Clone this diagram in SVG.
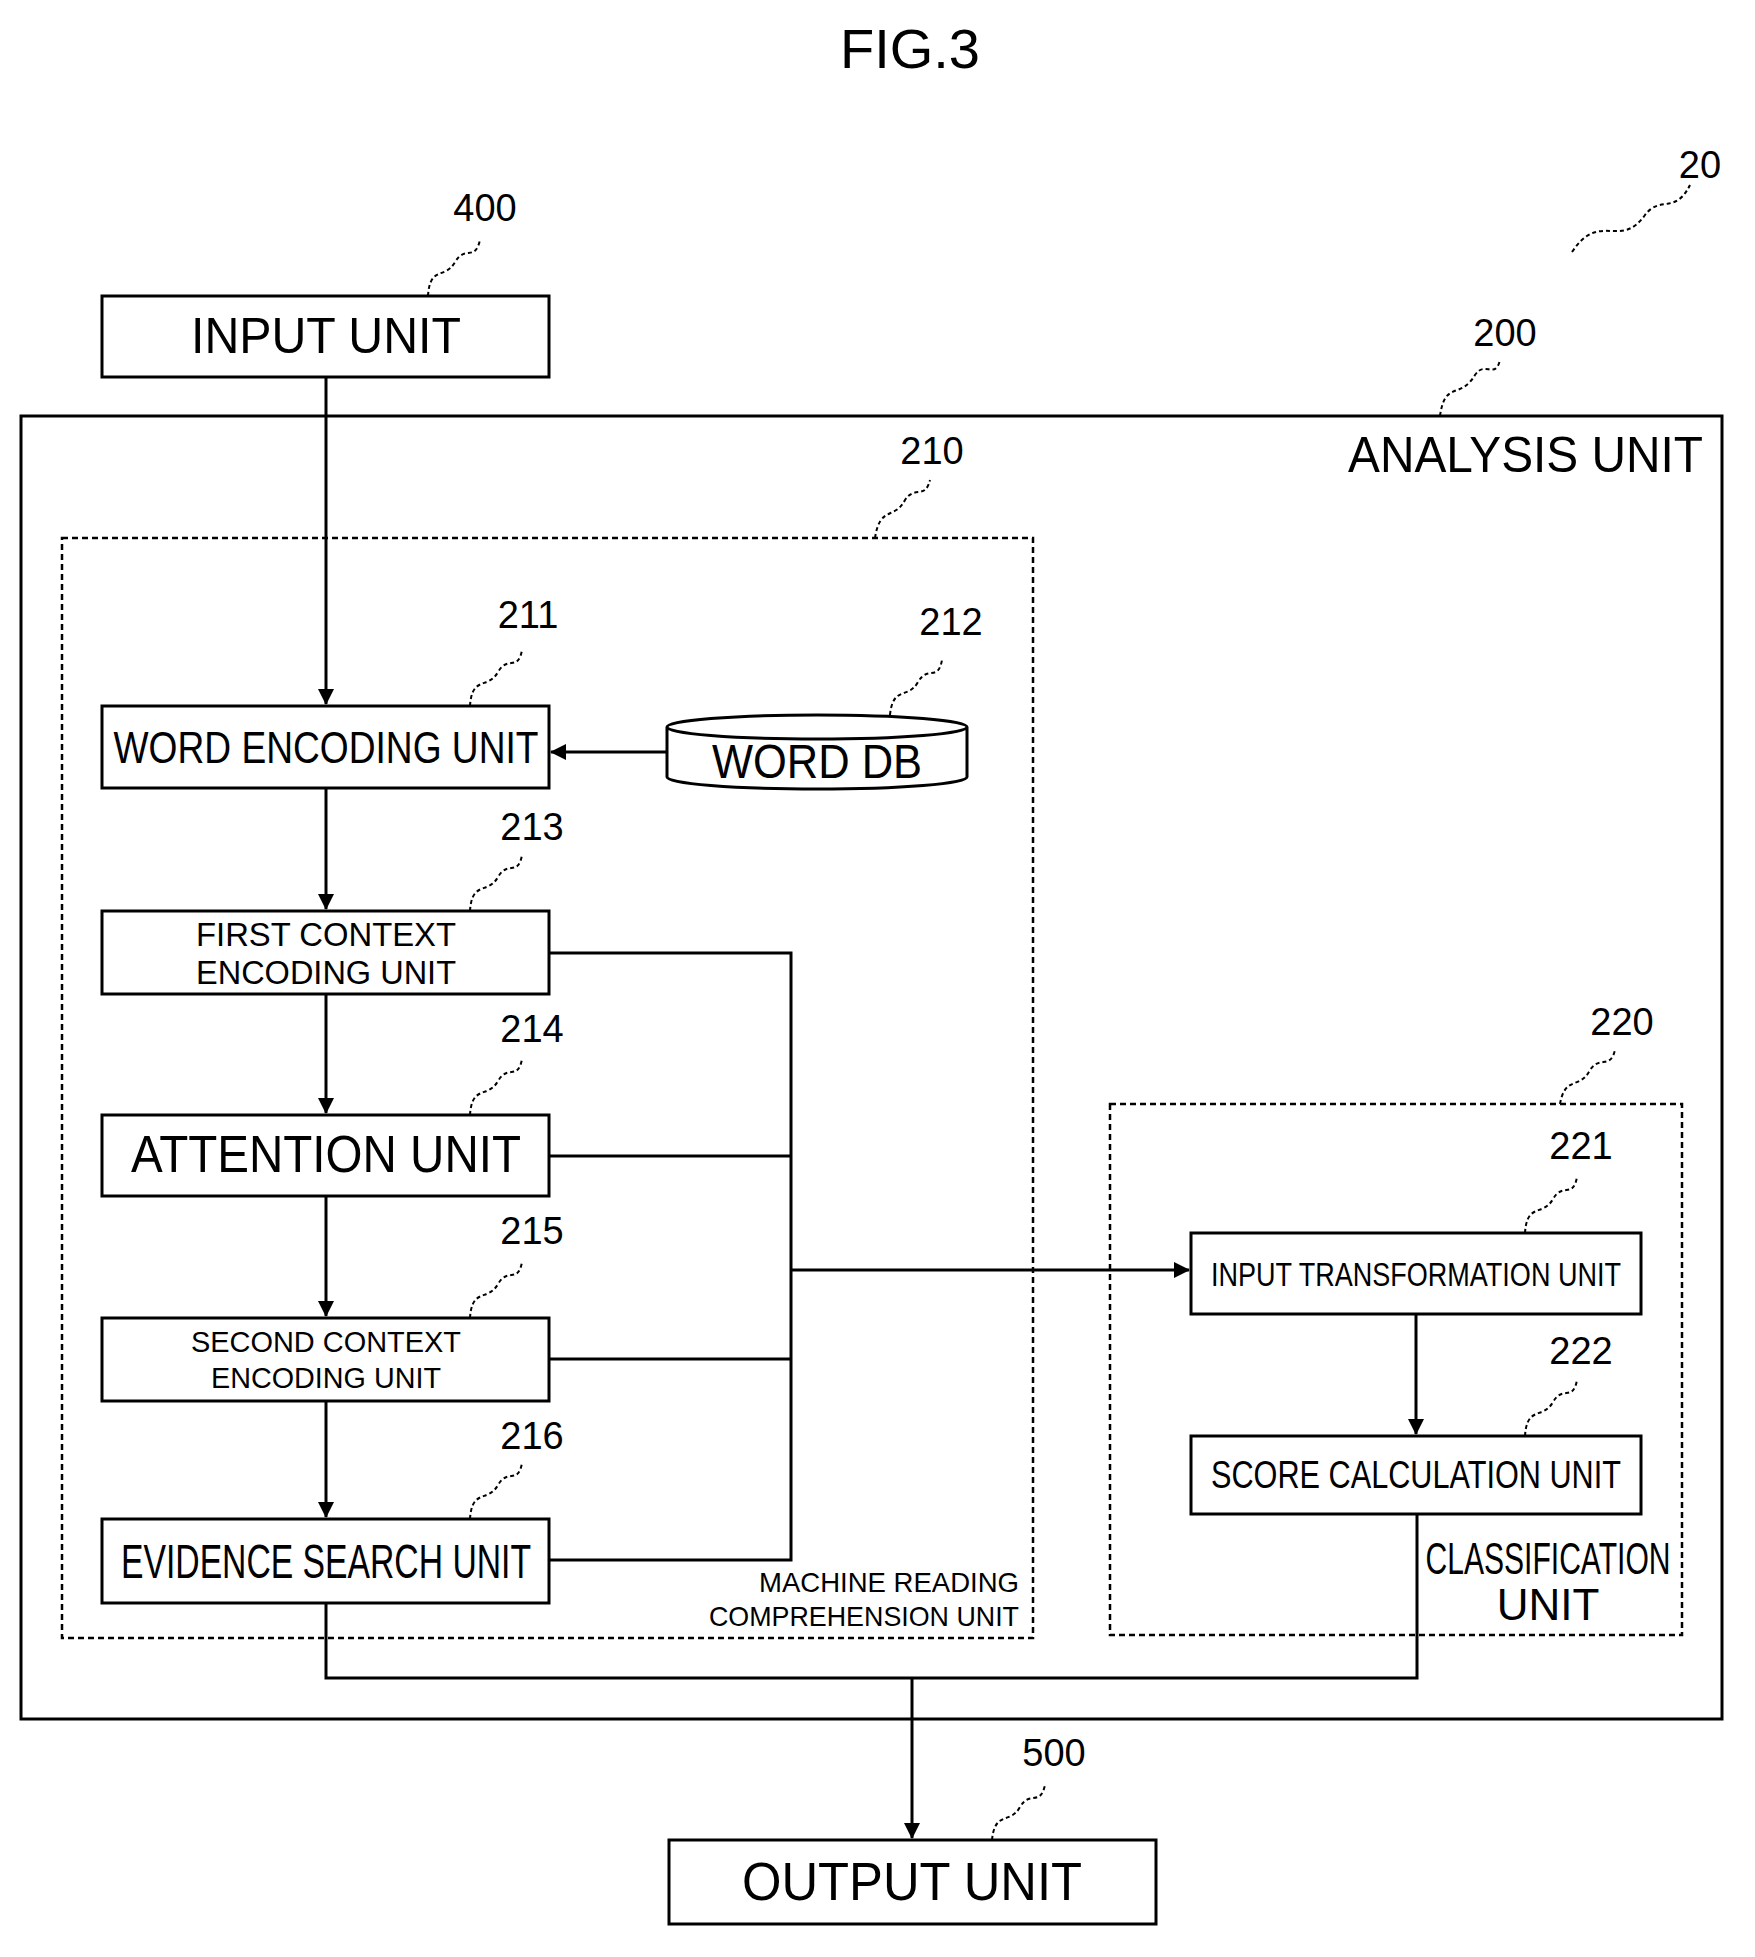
<svg xmlns="http://www.w3.org/2000/svg" width="1755" height="1957" viewBox="0 0 1755 1957">
<style>
.b{fill:#fff;stroke:#000;stroke-width:3}
.d{fill:none;stroke:#000;stroke-width:2.5;stroke-dasharray:6 4}
.c{fill:none;stroke:#000;stroke-width:3}
.s{fill:none;stroke:#000;stroke-width:2;stroke-dasharray:4 3}
text{font-family:"Liberation Sans",Arial,sans-serif;fill:#000}
.t{text-anchor:middle}
.n{font-size:38px}
</style>
<defs><marker id="a" markerWidth="16" markerHeight="16" refX="15" refY="8" orient="auto" markerUnits="userSpaceOnUse"><path d="M0,0L16,8L0,16Z" fill="#000"/></marker></defs>
<rect width="1755" height="1957" fill="#fff"/>
<text x="910" y="68" class="t" font-size="56">FIG.3</text>
<g id="ref20"><text x="1700" y="178" class="t n">20</text><path class="s" d="M1572,252 C1600,210 1620,250 1645,215 C1660,195 1675,215 1690,185"/></g>
<g id="analysis"><rect class="b" x="21" y="416" width="1701" height="1303"/><text x="1703" y="472" text-anchor="end" font-size="50" textLength="355" lengthAdjust="spacingAndGlyphs">ANALYSIS UNIT</text><text x="1505" y="346" class="t n">200</text><path class="s" d="M1440,416 C1445,380 1460,400 1475,375 C1485,360 1495,380 1500,360"/></g>
<g id="mrc"><rect class="d" x="62" y="538" width="971" height="1100"/><text x="1019" y="1592" text-anchor="end" font-size="28" textLength="260" lengthAdjust="spacingAndGlyphs">MACHINE READING</text><text x="1019" y="1626" text-anchor="end" font-size="28" textLength="310" lengthAdjust="spacingAndGlyphs">COMPREHENSION UNIT</text><text x="932" y="464" class="t n">210</text><path class="s" d="M875,538 C880,505 895,520 905,500 C915,485 925,500 930,480"/></g>
<g id="classification"><rect class="d" x="1110" y="1104" width="572" height="531"/><text x="1548" y="1574" class="t" font-size="44" textLength="245" lengthAdjust="spacingAndGlyphs">CLASSIFICATION</text><text x="1548" y="1620" class="t" font-size="44">UNIT</text><text x="1622" y="1035" class="t n">220</text><path class="s" d="M1560,1104 C1565,1075 1580,1090 1590,1070 C1600,1055 1610,1070 1615,1050"/></g>
<g id="input"><rect class="b" x="102" y="296" width="447" height="81"/><text x="326" y="353" class="t" font-size="50" textLength="270" lengthAdjust="spacingAndGlyphs">INPUT UNIT</text><text x="485" y="221" class="t n">400</text><path class="s" d="M428,296 C430,265 445,280 455,262 C465,245 475,262 480,240"/></g>
<g id="word"><rect class="b" x="102" y="706" width="447" height="82"/><text x="326" y="763" class="t" font-size="44" textLength="425" lengthAdjust="spacingAndGlyphs">WORD ENCODING UNIT</text><text x="528" y="628" class="t n">211</text><path class="s" d="M470,706 C472,675 488,690 498,672 C508,655 518,672 522,650"/></g>
<g id="worddb"><path class="b" d="M667,727 L667,777 A150,12 0 0 0 967,777 L967,727 A150,12 0 0 0 667,727 A150,12 0 0 0 967,727"/><text x="817" y="778" class="t" font-size="48" textLength="210" lengthAdjust="spacingAndGlyphs">WORD DB</text><text x="951" y="635" class="t n">212</text><path class="s" d="M890,715 C893,685 908,700 918,682 C928,665 938,682 942,660"/></g>
<g id="first"><rect class="b" x="102" y="911" width="447" height="83"/><text x="326" y="946" class="t" font-size="34" textLength="260" lengthAdjust="spacingAndGlyphs">FIRST CONTEXT</text><text x="326" y="984" class="t" font-size="34" textLength="260" lengthAdjust="spacingAndGlyphs">ENCODING UNIT</text><text x="532" y="840" class="t n">213</text><path class="s" d="M470,911 C472,880 488,895 498,877 C508,860 518,877 522,855"/></g>
<g id="attention"><rect class="b" x="102" y="1115" width="447" height="81"/><text x="326" y="1172" class="t" font-size="52" textLength="390" lengthAdjust="spacingAndGlyphs">ATTENTION UNIT</text><text x="532" y="1042" class="t n">214</text><path class="s" d="M470,1115 C472,1084 488,1099 498,1081 C508,1064 518,1081 522,1059"/></g>
<g id="second"><rect class="b" x="102" y="1318" width="447" height="83"/><text x="326" y="1352" class="t" font-size="30" textLength="270" lengthAdjust="spacingAndGlyphs">SECOND CONTEXT</text><text x="326" y="1388" class="t" font-size="30" textLength="230" lengthAdjust="spacingAndGlyphs">ENCODING UNIT</text><text x="532" y="1244" class="t n">215</text><path class="s" d="M470,1318 C472,1287 488,1302 498,1284 C508,1267 518,1284 522,1262"/></g>
<g id="evidence"><rect class="b" x="102" y="1519" width="447" height="84"/><text x="326" y="1578" class="t" font-size="48" textLength="410" lengthAdjust="spacingAndGlyphs">EVIDENCE SEARCH UNIT</text><text x="532" y="1449" class="t n">216</text><path class="s" d="M470,1519 C472,1488 488,1503 498,1485 C508,1468 518,1485 522,1463"/></g>
<g id="transform"><rect class="b" x="1191" y="1233" width="450" height="81"/><text x="1416" y="1286" class="t" font-size="34" textLength="410" lengthAdjust="spacingAndGlyphs">INPUT TRANSFORMATION UNIT</text><text x="1581" y="1159" class="t n">221</text><path class="s" d="M1525,1233 C1527,1202 1543,1217 1553,1199 C1563,1182 1573,1199 1577,1177"/></g>
<g id="score"><rect class="b" x="1191" y="1436" width="450" height="78"/><text x="1416" y="1488" class="t" font-size="38" textLength="410" lengthAdjust="spacingAndGlyphs">SCORE CALCULATION UNIT</text><text x="1581" y="1364" class="t n">222</text><path class="s" d="M1525,1436 C1527,1405 1543,1420 1553,1402 C1563,1385 1573,1402 1577,1380"/></g>
<g id="output"><rect class="b" x="669" y="1840" width="487" height="84"/><text x="912" y="1900" class="t" font-size="54" textLength="340" lengthAdjust="spacingAndGlyphs">OUTPUT UNIT</text><text x="1054" y="1766" class="t n">500</text><path class="s" d="M992,1840 C995,1810 1010,1825 1020,1807 C1030,1790 1040,1807 1045,1785"/></g>
<g id="connectors">
<path class="c" d="M326,377V704" marker-end="url(#a)"/>
<path class="c" d="M667,752H551" marker-end="url(#a)"/>
<path class="c" d="M326,788V909" marker-end="url(#a)"/>
<path class="c" d="M326,994V1113" marker-end="url(#a)"/>
<path class="c" d="M326,1196V1316" marker-end="url(#a)"/>
<path class="c" d="M326,1401V1517" marker-end="url(#a)"/>
<path class="c" d="M549,953H791V1560H549M549,1156H791M549,1359H791"/>
<path class="c" d="M791,1270H1189" marker-end="url(#a)"/>
<path class="c" d="M1416,1314V1434" marker-end="url(#a)"/>
<path class="c" d="M326,1603V1678H1417V1514"/>
<path class="c" d="M912,1678V1838" marker-end="url(#a)"/>
</g>
</svg>
